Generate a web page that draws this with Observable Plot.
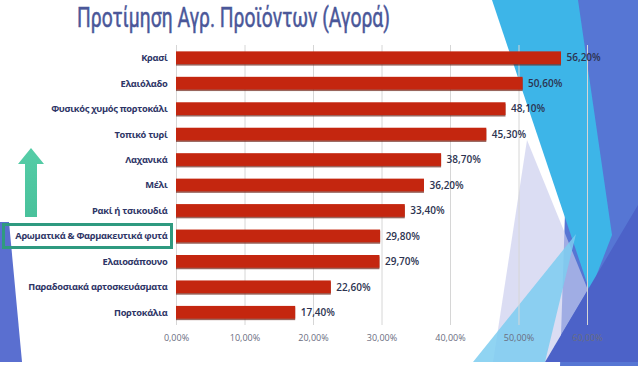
<!DOCTYPE html>
<html><head><meta charset="utf-8">
<script src="https://cdn.jsdelivr.net/npm/d3@7"></script>
<script src="https://cdn.jsdelivr.net/npm/@observablehq/plot@0.6"></script>
<style>
body{margin:0;background:#fff;}
#slide{position:relative;width:638px;height:366px;overflow:hidden;background:#fff;font-family:"Open Sans",sans-serif;}
.deco{position:absolute;left:0;top:0;width:638px;height:366px;}
#title{position:absolute;left:77px;top:2px;font-family:Roboto,sans-serif;font-weight:400;font-size:27px;color:#4a5799;white-space:nowrap;transform-origin:0 0;-webkit-text-stroke:0.5px #4a5799;}
#chart{position:absolute;left:0;top:40px;}
#box{position:absolute;border:3px solid #2f9a80;box-sizing:border-box;}
#chart g[aria-label="y-axis tick label"] text{font-weight:700;letter-spacing:-0.3px;}
#chart g[aria-label="x-axis tick label"] text{font-weight:500;}
</style></head>
<body>
<div id="slide">
  <div class="deco" style="background:#5676d4;clip-path:polygon(572px 0,638px 0,638px 366px,560px 366px)"></div>
  <div class="deco" style="background:#3db5e8;clip-path:polygon(492px 0,578px 0,612px 235px,590px 292px)"></div>
  <div class="deco" style="background:rgba(200,203,236,0.65);clip-path:polygon(527px 140px,588px 290px,545px 362px,493px 362px)"></div>
  <div class="deco" style="background:rgba(125,205,240,0.85);clip-path:polygon(473px 362px,576px 234px,560px 300px,545px 362px)"></div>
  <div class="deco" style="background:#4c62c8;clip-path:polygon(545px 362px,638px 205px,638px 362px)"></div>
  <div class="deco" style="background:#5a6fd0;clip-path:polygon(0 222px,9px 222px,22px 362px,0 362px)"></div>
  <div class="deco" style="background:linear-gradient(#6fe6c0,#2fa882);clip-path:polygon(18px 164px,31px 148px,44px 164px,37px 164px,37px 217px,25px 217px,25px 164px)"></div>
  <div id="title">Προτίμηση Αγρ. Προϊόντων (Αγορά)</div>
  <div id="chart"></div>
  <div id="box"></div>
</div>
<script>
const categories = ["Κρασί","Ελαιόλαδο","Φυσικός χυμός πορτοκάλι","Τοπικό τυρί","Λαχανικά","Μέλι","Ρακί ή τσικουδιά","Αρωματικά & Φαρμακευτικά φυτά","Ελαιοσάπουνο","Παραδοσιακά αρτοσκευάσματα","Πορτοκάλια"];
const values = [56.2, 50.6, 48.1, 45.3, 38.7, 36.2, 33.4, 29.8, 29.7, 22.6, 17.4];
const xTicks = [0, 10, 20, 30, 40, 50, 60];
const highlighted = "Αρωματικά & Φαρμακευτικά φυτά";

const data = categories.map((c, i) => ({cat: c, value: values[i]}));
const loc = d3.formatLocale({decimal: ",", thousands: ".", grouping: [3], currency: ["", "€"]});
const f2 = loc.format(".2f");
const fmt = v => f2(v) + "%";

const chart = Plot.plot({
  width: 638, height: 326,
  marginLeft: 176, marginRight: 51, marginTop: 5, marginBottom: 41,
  style: {background: "transparent", fontFamily: "'Open Sans', sans-serif", overflow: "visible"},
  x: {domain: [0, 60], label: null},
  y: {domain: categories, paddingInner: 0.5, paddingOuter: 0.25, round: false, label: null},
  marks: [
    Plot.gridX(xTicks, {stroke: "#d6d6d6", strokeOpacity: 1}),
    Plot.axisX({ticks: xTicks, tickFormat: fmt, tickSize: 0, tickPadding: 9, fontSize: 9, color: "#6a6d80", label: null}),
    Plot.axisY({tickSize: 0, tickPadding: 9, fontSize: 9.3, color: "#2e3566", label: null}),
    Plot.barX(data, {x: "value", y: "cat", fill: "#6e2418", fillOpacity: 0.7, dy: 1.5}),
    Plot.barX(data, {x: "value", y: "cat", fill: "#c4260f"}),
    Plot.text(data, {x: "value", y: "cat", text: d => fmt(d.value), textAnchor: "start", dx: 5, fontSize: 10, fontWeight: 600, fill: "#2c3350"})
  ]
});
document.getElementById("chart").appendChild(chart);

// title width fit
const t = document.getElementById("title");
const w = t.getBoundingClientRect().width;
t.style.transform = `scaleX(${313 / w})`;

// highlight box from the y scale
const ys = chart.scale("y");
const cy = ys.apply(highlighted) + ys.bandwidth / 2 + 40;
const box = document.getElementById("box");
box.style.left = "2px";
box.style.width = "171px";
box.style.top = (cy - 13) + "px";
box.style.height = "26px";
</script>
</body></html>
